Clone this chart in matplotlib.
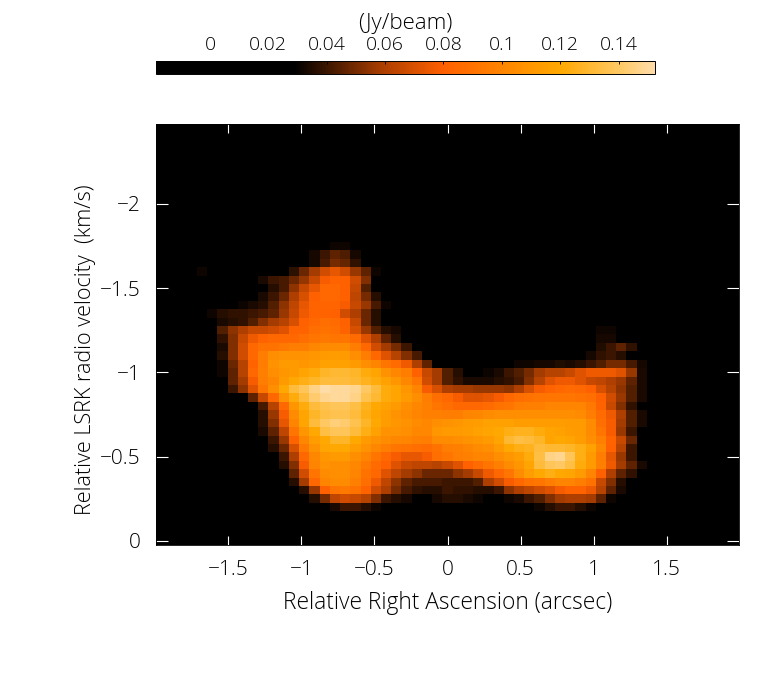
import numpy as np
import matplotlib
matplotlib.use('Agg')
import matplotlib.pyplot as plt
from matplotlib.colors import LinearSegmentedColormap

# flux in mJy/beam, rows run from the top of the image
n_rows, n_cols = 50, 57
row_index = list(range(14, 46))
first_col = [17, 15, 15, 4, 10, 11, 10, 8, 5, 6, 6, 6, 6, 6, 6, 6,
             7, 7, 9, 10, 10, 10, 10, 11, 11, 12, 12, 13, 13, 14, 15, 17]
row_values = [
    [32, 32],
    [33, 40, 46, 43, 33],
    [33, 42, 50, 47, 38],
    [32, 0, 0, 0, 0, 0, 0, 0, 0, 37, 48, 58, 68, 74, 68, 56, 46, 32],
    [34, 40, 42, 48, 55, 66, 78, 82, 80, 68, 52],
    [36, 42, 54, 65, 74, 84, 85, 80, 66, 44],
    [34, 40, 48, 60, 70, 80, 85, 85, 80, 64, 50, 36],
    [31, 34, 36, 44, 54, 64, 74, 82, 83, 83, 78, 66, 56, 42, 32],
    [32, 36, 38, 38, 40, 42, 46, 56, 66, 76, 82, 82, 80, 68, 60, 48, 36],
    [34, 36, 38, 44, 52, 58, 62, 70, 80, 84, 88, 86, 80, 66, 48, 36],
    [44, 54, 60, 66, 66, 68, 72, 82, 82, 88, 90, 88, 82, 70, 56, 44, 36, 33,
     0, 0, 0, 0, 0, 0, 0, 0, 0, 0, 0, 0, 0, 0, 0, 0, 0, 0, 0, 32, 32],
    [38, 52, 66, 76, 82, 84, 84, 84, 88, 92, 94, 92, 92, 86, 72, 60, 46, 36,
     0, 0, 0, 0, 0, 0, 0, 0, 0, 0, 0, 0, 0, 0, 0, 0, 0, 0, 0, 33, 33],
    [34, 52, 68, 84, 90, 90, 94, 96, 96, 102, 104, 104, 104, 96, 84, 68, 58, 50, 40,
     0, 0, 0, 0, 0, 0, 0, 0, 0, 0, 0, 0, 0, 0, 0, 0, 0, 0, 35, 40, 46, 38],
    [36, 52, 68, 84, 96, 106, 108, 108, 108, 110, 112, 114, 112, 106, 96, 84, 72, 62, 52, 42,
     0, 0, 0, 0, 0, 0, 0, 0, 0, 0, 0, 0, 0, 0, 0, 0, 33, 38, 40, 36],
    [32, 48, 62, 82, 96, 108, 112, 112, 110, 112, 116, 116, 116, 112, 106, 100, 92, 86, 76, 60, 46,
     0, 0, 0, 0, 0, 0, 0, 0, 32, 32, 33, 33, 35, 34, 36, 40, 44, 50, 50, 42, 33],
    [32, 46, 62, 84, 98, 106, 110, 112, 118, 122, 128, 130, 130, 128, 122, 118, 108, 102, 96, 80, 66,
     58, 44, 36, 0, 0, 31, 34, 40, 44, 50, 58, 62, 62, 66, 72, 76, 76, 76, 72, 56, 34],
    [46, 58, 78, 96, 102, 112, 120, 124, 128, 132, 132, 132, 130, 126, 122, 116, 110, 102, 92, 68,
     58, 44, 38, 34, 34, 34, 36, 38, 42, 52, 62, 72, 76, 76, 72, 66, 64, 60, 56, 46, 34],
    [40, 54, 72, 92, 106, 120, 132, 138, 146, 152, 150, 150, 148, 140, 132, 122, 118, 110, 100, 78,
     70, 60, 58, 58, 56, 56, 56, 54, 60, 70, 78, 82, 84, 86, 84, 80, 70, 62, 54, 44, 34],
    [46, 66, 84, 108, 122, 132, 142, 148, 150, 150, 146, 136, 130, 122, 118, 112, 106, 96,
     88, 84, 78, 72, 72, 74, 78, 84, 88, 90, 92, 92, 92, 92, 90, 88, 80, 68, 56, 44, 34],
    [42, 62, 84, 110, 122, 132, 136, 138, 138, 134, 126, 120, 116, 112, 106, 102, 98,
     92, 88, 84, 84, 84, 86, 90, 92, 96, 98, 98, 100, 100, 100, 100, 94, 82, 66, 52, 38],
    [36, 56, 78, 104, 118, 128, 134, 136, 136, 132, 124, 118, 114, 108, 104, 100, 98,
     98, 96, 96, 100, 102, 104, 106, 106, 106, 106, 106, 106, 106, 106, 104, 96, 86, 76, 60, 44, 34],
    [36, 52, 74, 100, 118, 132, 140, 144, 142, 136, 128, 120, 114, 110, 108, 104, 102,
     106, 108, 110, 112, 114, 116, 116, 116, 114, 114, 114, 114, 114, 112, 112, 104, 88, 78, 58, 44, 34],
    [34, 46, 64, 92, 110, 120, 134, 138, 138, 132, 124, 116, 108, 108, 106, 102, 102,
     110, 112, 112, 114, 116, 118, 120, 124, 126, 126, 122, 118, 116, 114, 112, 104, 92, 78, 56, 40],
    [40, 56, 82, 102, 114, 120, 128, 128, 120, 112, 108, 104, 102, 100, 98, 96,
     104, 104, 106, 108, 110, 112, 118, 130, 134, 132, 128, 118, 120, 118, 114, 106, 98, 82, 66, 48],
    [36, 48, 70, 94, 108, 118, 120, 120, 114, 108, 102, 96, 92, 90, 88, 86,
     90, 96, 98, 100, 104, 106, 112, 120, 124, 126, 132, 130, 130, 128, 124, 116, 102, 80, 62, 40],
    [40, 60, 84, 102, 110, 112, 112, 106, 100, 92, 84, 78, 74, 74, 78,
     88, 92, 96, 98, 100, 100, 106, 110, 114, 122, 134, 146, 148, 138, 124, 112, 96, 74, 56, 40],
    [36, 52, 78, 100, 108, 106, 106, 102, 94, 86, 80, 72, 66, 64, 64,
     62, 66, 72, 80, 86, 92, 98, 104, 110, 118, 132, 138, 140, 134, 122, 112, 98, 76, 58, 46, 34],
    [46, 68, 92, 104, 106, 106, 100, 90, 84, 72, 64, 58, 54, 48,
     48, 48, 54, 58, 66, 76, 84, 92, 104, 114, 120, 124, 120, 118, 112, 100, 80, 60, 46, 38],
    [36, 58, 84, 100, 104, 104, 98, 88, 76, 64, 54, 46, 42, 42,
     42, 40, 40, 40, 44, 60, 68, 78, 84, 90, 92, 96, 100, 100, 96, 90, 66, 52, 36],
    [36, 56, 80, 92, 94, 90, 82, 68, 60, 50, 42, 38, 36,
     36, 40, 38, 38, 36, 36, 40, 54, 60, 64, 68, 72, 78, 82, 82, 76, 62, 46, 34],
    [36, 50, 64, 68, 66, 62, 52, 40, 36, 33, 0, 0,
     33, 36, 36, 34, 32, 0, 0, 32, 34, 40, 44, 52, 58, 60, 60, 58, 46, 32],
    [34, 40, 40, 36, 32, 0, 0, 0, 0, 0, 0, 0, 0, 0, 0, 0, 0, 0, 0, 0,
     32, 36, 40, 40, 36, 32],
]

x_ticks = [-1.5, -1, -0.5, 0, 0.5, 1, 1.5]
y_ticks = [0, -0.5, -1, -1.5, -2]
cbar_ticks = [0, 0.02, 0.04, 0.06, 0.08, 0.1, 0.12, 0.14]
cbar_labels = ['0', '0.02', '0.04', '0.06', '0.08', '0.1', '0.12', '0.14']

flux = np.zeros((n_rows, n_cols))
for r, c, vals in zip(row_index, first_col, row_values):
    flux[r, c:c + len(vals)] = vals
flux = flux / 1000.0

vmin, vmax = -0.0185, 0.1525
stops = [(-0.0185, '#000000'), (0.029, '#000000'), (0.04, '#3c1600'), (0.06, '#b04000'),
         (0.08, '#ff6000'), (0.10, '#ff8400'), (0.12, '#ffa800'), (0.14, '#ffc860'), (0.1525, '#ffdca8')]
cmap = LinearSegmentedColormap.from_list(
    'pv', [((v - vmin) / (vmax - vmin), col) for v, col in stops], N=256)

plt.rcParams['font.family'] = ['Open Sans', 'DejaVu Sans']
plt.rcParams['font.weight'] = 'light'
plt.rcParams['axes.labelweight'] = 'light'
plt.rcParams['font.size'] = 15

W, H = 779, 680
fig = plt.figure(figsize=(W / 100, H / 100), dpi=100)
ax = fig.add_axes([156 / W, 1 - 545 / H, 583 / W, 421 / H])
im = ax.imshow(flux, cmap=cmap, vmin=vmin, vmax=vmax, aspect='auto', origin='upper',
               interpolation='nearest', extent=[-1.995, 1.995, 0.025, -2.475])

ax.set_xticks(x_ticks)
ax.set_xticklabels(['\u22121.5', '\u22121', '\u22120.5', '0', '0.5', '1', '1.5'])
ax.set_yticks(y_ticks)
ax.set_yticklabels(['0', '\u22120.5', '\u22121', '\u22121.5', '\u22122'])
ax.tick_params(axis='x', direction='in', color='white', length=6.5, width=0.8,
               top=True, bottom=True, pad=11)
ax.tick_params(axis='y', direction='in', color='white', length=8.5, width=0.8,
               left=True, right=True, pad=11)
for s in ax.spines.values():
    s.set_linewidth(0.6)
ax.set_xlabel('Relative Right Ascension (arcsec)', labelpad=8, fontsize=16.4)
ax.set_ylabel('Relative LSRK radio velocity  (km/s)', labelpad=3, fontsize=15.6, y=0.465)

cax = fig.add_axes([156 / W, 1 - 74 / H, 499 / W, 13 / H])
cbar = fig.colorbar(im, cax=cax, orientation='horizontal')
cbar.set_ticks(cbar_ticks)
cbar.set_ticklabels(cbar_labels)
cax.xaxis.set_ticks_position('top')
cax.xaxis.set_label_position('top')
cax.tick_params(axis='x', direction='in', length=2, width=0.6, color='black', pad=5, labelsize=14)
cbar.outline.set_linewidth(0.7)
cbar.set_label('(Jy/beam)', labelpad=5, fontsize=16)

fig.savefig('out.png', dpi=100, facecolor='white')
